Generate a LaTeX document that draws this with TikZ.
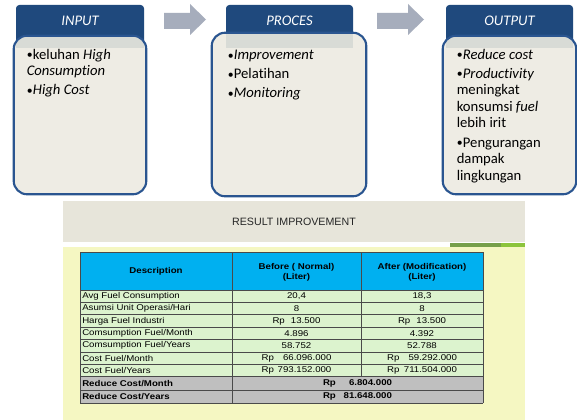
\documentclass[tikz,border=0pt]{standalone}
\usepackage{fontspec}
\setmainfont{Carlito}[Ligatures=NoCommon]
\newfontfamily\tabfont{Liberation Sans}
\usetikzlibrary{calc}

\definecolor{hdrblue}{HTML}{1F497D}
\definecolor{edgeblue}{HTML}{2A5590}
\definecolor{bodyfill}{HTML}{EEECE4}
\definecolor{bandgrey}{HTML}{D8DBD6}
\definecolor{arrowgrey}{HTML}{A6ADBC}
\definecolor{bannerfill}{HTML}{E7E5DA}
\definecolor{paleyellow}{HTML}{F5F7C2}
\definecolor{headcyan}{HTML}{00B0F0}
\definecolor{rowgreen}{HTML}{DCF3CE}
\definecolor{rowgrey}{HTML}{BFBFBF}
\definecolor{gridgrey}{HTML}{4A4A4A}
\definecolor{darkolive}{HTML}{77A04A}
\definecolor{brightgreen}{HTML}{8CC43C}

% horizontally widened table text
\newcommand\wx[1]{\scalebox{1.15}[1]{#1}}
% bullet paragraph with hanging indent
\newcommand\bitem{\par\noindent\hangindent=4.6pt\hangafter=1\makebox[4.6pt][l]{\raisebox{0.3pt}{\scalebox{0.8}{•}}}}

% one stage: name, header x1, header x2, body x1, body x2, body y1, body y2, title
\newcommand\stagebox[8]{%
  \fill[hdrblue, rounded corners=2.5] (#2,5) rectangle (#3,48);
  \node[titletext] (#1-title) at ({(#2+#3)/2},21) {#8};
  \node[bodybox, minimum width={(#5-#4)*0.75pt}, minimum height={(#7-#6)*0.75pt}]
    (#1) at ({(#4+#5)/2},{(#6+#7)/2}) {};
  \begin{scope}
    \clip[rounded corners=10] (#1.north west) rectangle (#1.south east);
    \fill[bandgrey] (#2,#6) rectangle (#3,48);
  \end{scope}
  \draw[edgeblue, line width=1.6pt, rounded corners=10] (#1.north west) rectangle (#1.south east);
}

% one table row: name, y, description, before, after
\newcommand\trow[5]{%
  \node[tcell, anchor=west] (#1-d) at (82,#2) {\wx{#3}};
  \node[tcell] (#1-b) at (296.5,#2) {\wx{#4}};
  \node[tcell] (#1-a) at (422,#2) {\wx{#5}};
}
\newcommand\acc[2]{\makebox[#1]{Rp\hfill #2}}

\begin{document}
\begin{tikzpicture}[x=0.75pt, y=-0.75pt,
  titletext/.style={text=white, font=\fontsize{11pt}{13pt}\selectfont\itshape, inner sep=0},
  bodybox/.style={fill=bodyfill, rounded corners=10, inner sep=0, draw=none},
  bodytext/.style={anchor=north west, inner sep=0, align=flush left,
    font=\fontsize{11pt}{12.4pt}\selectfont\setlength{\parskip}{1.9pt}},
  tcell/.style={inner sep=0, font=\tabfont\fontsize{6.3pt}{7.5pt}\selectfont},
  thead/.style={tcell, font=\tabfont\fontsize{6.3pt}{7.6pt}\selectfont\bfseries, align=center},
  blockarrow/.style={fill=arrowgrey},
]
\useasboundingbox[fill=white] (0,0) rectangle (577,420);

% ---- flow: input, process, output ----
\stagebox{input}{16}{144}{14}{146}{36}{194}{INPUT}
\stagebox{proces}{226}{353}{212}{366}{33}{196}{PROCES}
\stagebox{output}{446}{573}{443}{576}{36}{194}{OUTPUT}

\node[bodytext, text width=110pt] (input-text) at (26.5,40)
  {\bitem keluhan \textit{High}\\\textit{Consumption}\bitem\textit{High Cost}};
\node[bodytext, text width=105pt] (proces-text) at (227.5,40.5)
  {\bitem\textit{Improvement}\bitem Pelatihan\bitem\textit{Monitoring}};
\node[bodytext, text width=90pt] (output-text) at (456.5,40)
  {\bitem\textit{Reduce cost}\bitem\textit{Productivity}\\meningkat\\konsumsi \textit{fuel}\\lebih irit\bitem Pengurangan\\dampak\\lingkungan};

\fill[blockarrow] (164,13) -- (190,13) -- (190,4) -- (206,19.5) -- (190,35) -- (190,29) -- (164,29) -- cycle;
\fill[blockarrow] (377,13) -- (408,13) -- (408,4) -- (424,19.5) -- (408,35) -- (408,29) -- (377,29) -- cycle;

% ---- result panel ----
\fill[bannerfill] (63,201) rectangle (525,242);
\node[font=\tabfont\fontsize{8pt}{9pt}\selectfont, text=black!85, inner sep=0] (banner) at (294,221.5) {RESULT IMPROVEMENT};
\fill[paleyellow] (63,247) rectangle (525,420);
\fill[darkolive] (450,242.5) rectangle (501,246.5);
\fill[brightgreen] (501,242.5) rectangle (525,246.5);

% table fills
\fill[headcyan] (80,252) rectangle (483,290);
\fill[rowgreen] (80,290) rectangle (483,376.7);
\fill[rowgrey] (80,376.7) rectangle (483,403.3);

% table rules
\begin{scope}[draw=gridgrey, line width=0.45pt]
  \foreach \yy in {252,290,302.39,314.77,327.16,339.54,351.93,364.31,376.7,390,403.3}
    \draw (80,\yy) -- (483,\yy);
  \draw (80,252) -- (80,403.3);
  \draw (483,252) -- (483,403.3);
  \draw (232,252) -- (232,403.3);
  \draw (361,252) -- (361,376.7);
\end{scope}

% header row
\node[thead] (h-d) at (156,271) {\wx{Description}};
\node[thead] (h-b) at (296.5,272) {\wx{Before ( Normal)}\\\wx{(Liter)}};
\node[thead] (h-a) at (422,272) {\wx{After (Modification)}\\\wx{(Liter)}};

% data rows
\trow{r1}{296.2}{Avg Fuel Consumption}{20,4}{18,3}
\trow{r2}{308.6}{Asumsi Unit Operasi/Hari}{8}{8}
\trow{r3}{321.0}{Harga Fuel Industri}{\acc{31.3pt}{13.500}}{\acc{31.3pt}{13.500}}
\trow{r4}{333.4}{Comsumption Fuel/Month}{4.896}{4.392}
\trow{r5}{345.8}{Comsumption Fuel/Years}{58.752}{52.788}
\trow{r6}{358.2}{Cost Fuel/Month}{\acc{45.5pt}{66.096.000}}{\acc{45.5pt}{59.292.000}}
\trow{r7}{370.5}{Cost Fuel/Years}{\acc{45.5pt}{793.152.000}}{\acc{45.5pt}{711.504.000}}

% totals
\node[tcell, anchor=west, font=\tabfont\fontsize{6.3pt}{7.5pt}\selectfont\bfseries] (t1-d) at (82,383.4) {\wx{Reduce Cost/Month}};
\node[tcell, font=\tabfont\fontsize{6.3pt}{7.5pt}\selectfont\bfseries] (t1-v) at (357.5,383.4) {\wx{\acc{45pt}{6.804.000}}};
\node[tcell, anchor=west, font=\tabfont\fontsize{6.3pt}{7.5pt}\selectfont\bfseries] (t2-d) at (82,396.7) {\wx{Reduce Cost/Years}};
\node[tcell, font=\tabfont\fontsize{6.3pt}{7.5pt}\selectfont\bfseries] (t2-v) at (357.5,396.7) {\wx{\acc{45pt}{81.648.000}}};
\end{tikzpicture}
\end{document}
